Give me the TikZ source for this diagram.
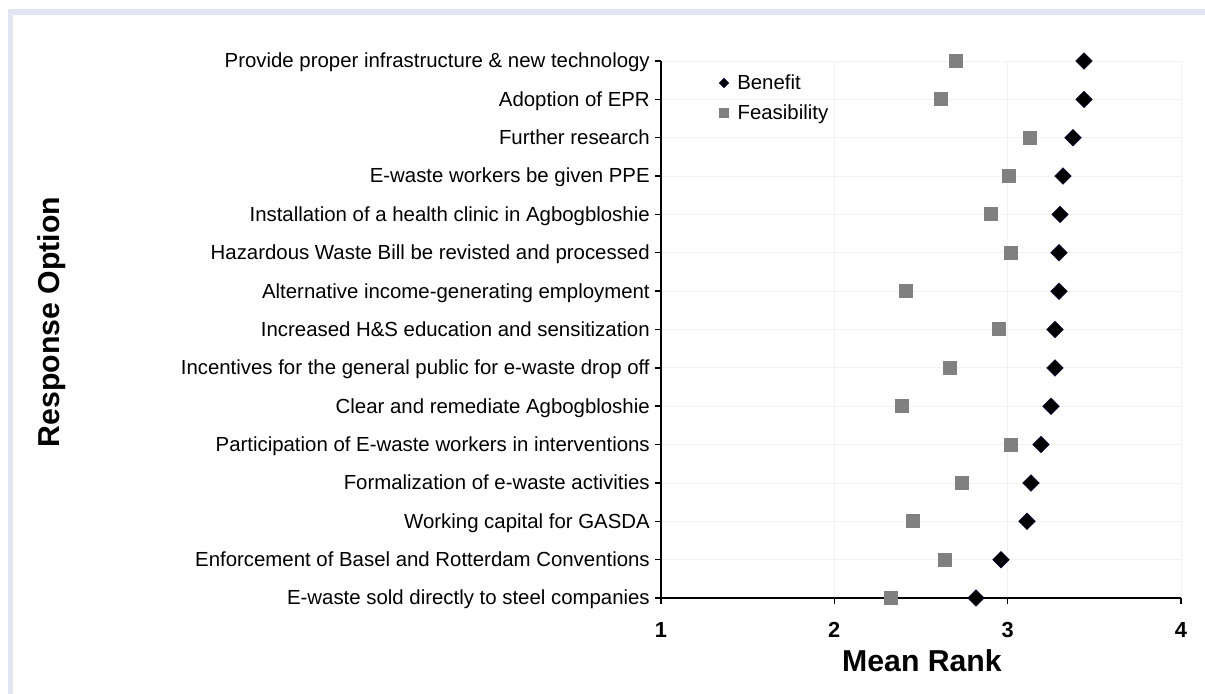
\documentclass[tikz,border=0pt]{standalone}
\usepackage{fontspec}
\setmainfont{Liberation Sans}
\usepackage{tikz}
\usetikzlibrary{shapes.geometric}
\usetikzlibrary{positioning}

\definecolor{frameblue}{HTML}{E2E6F3}
\definecolor{markgray}{HTML}{808080}
\definecolor{gridgray}{HTML}{F2F2F2}

\begin{document}
\begin{tikzpicture}[x=0.025cm, y=-0.025cm,
	opt/.style={anchor=east, inner sep=0pt, yshift=-1.8pt, font=\fontsize{14.5pt}{17pt}\selectfont, text height=1.45ex, text depth=.3ex},
	benefit/.style={diamond, fill=black, draw=black!75!blue, line width=0.3pt, inner sep=0pt, minimum size=0.42cm},
	feasible/.style={rectangle, fill=markgray, inner sep=0pt, minimum size=0.35cm},
	ticklab/.style={font=\fontsize{15.5pt}{18pt}\selectfont\bfseries},
	bigtitle/.style={font=\fontsize{21.5pt}{24pt}\selectfont\bfseries},
	]
		\useasboundingbox (0,0) rectangle (1205,694);
		\fill[frameblue] (8,9) rectangle (1205,15);
		\fill[frameblue] (8,9) rectangle (13,694);
		
		% grid
		\foreach \y in {61,99.4,137.7,176.1,214.4,252.8,291.2,329.5,367.9,406.2,444.6,483,521.3,559.7}
			\draw[gridgray, line width=0.6pt] (661,\y) -- (1181,\y);
		\foreach \x in {834.3,1007.6,1181}
			\draw[gridgray, line width=0.6pt] (\x,61) -- (\x,598);
		
		\coordinate (top) at (661,61);
		\coordinate (origin) at (661,598);
		\coordinate (right) at (1181,598);
		\draw[line width=1pt] (top) -- (origin) -- (right);
		\foreach \y in {61,99.4,137.7,176.1,214.4,252.8,291.2,329.5,367.9,406.2,444.6,483,521.3,559.7,598}
			\draw[line width=1pt] (655,\y) -- (661,\y);
		\foreach \x in {661,834.3,1007.6,1181}
			\draw[line width=1pt] (\x,598) -- (\x,604);
		
		\node[opt] (l1) at (650,61) {Provide proper infrastructure \& new technology};
		\node[opt] (l2) at (650,99.4) {Adoption of EPR};
		\node[opt] (l3) at (650,137.7) {Further research};
		\node[opt] (l4) at (650,176.1) {E-waste workers be given PPE};
		\node[opt] (l5) at (650,214.4) {Installation of a health clinic in Agbogbloshie};
		\node[opt] (l6) at (650,252.8) {Hazardous Waste Bill be revisted and processed};
		\node[opt] (l7) at (650,291.2) {Alternative income-generating employment};
		\node[opt] (l8) at (650,329.5) {Increased H\&S education and sensitization};
		\node[opt] (l9) at (650,367.9) {Incentives for the general public for e-waste drop off};
		\node[opt] (l10) at (650,406.2) {Clear and remediate Agbogbloshie};
		\node[opt] (l11) at (650,444.6) {Participation of E-waste workers in interventions};
		\node[opt] (l12) at (650,483) {Formalization of e-waste activities};
		\node[opt] (l13) at (650,521.3) {Working capital for GASDA};
		\node[opt] (l14) at (650,559.7) {Enforcement of Basel and Rotterdam Conventions};
		\node[opt] (l15) at (650,598) {E-waste sold directly to steel companies};
		
		\node[feasible] (f1) at (956,61) {};
		\node[feasible] (f2) at (941,99.4) {};
		\node[feasible] (f3) at (1030,137.7) {};
		\node[feasible] (f4) at (1009,176.1) {};
		\node[feasible] (f5) at (991,214.4) {};
		\node[feasible] (f6) at (1011,252.8) {};
		\node[feasible] (f7) at (906,291.2) {};
		\node[feasible] (f8) at (999,329.5) {};
		\node[feasible] (f9) at (950,367.9) {};
		\node[feasible] (f10) at (902,406.2) {};
		\node[feasible] (f11) at (1011,444.6) {};
		\node[feasible] (f12) at (962,483) {};
		\node[feasible] (f13) at (913,521.3) {};
		\node[feasible] (f14) at (945,559.7) {};
		\node[feasible] (f15) at (891,598) {};
		
		\node[benefit] (b1) at (1084,61) {};
		\node[benefit] (b2) at (1084,99.4) {};
		\node[benefit] (b3) at (1073,137.7) {};
		\node[benefit] (b4) at (1063,176.1) {};
		\node[benefit] (b5) at (1060,214.4) {};
		\node[benefit] (b6) at (1059,252.8) {};
		\node[benefit] (b7) at (1059,291.2) {};
		\node[benefit] (b8) at (1055,329.5) {};
		\node[benefit] (b9) at (1055,367.9) {};
		\node[benefit] (b10) at (1051,406.2) {};
		\node[benefit] (b11) at (1041,444.6) {};
		\node[benefit] (b12) at (1031,483) {};
		\node[benefit] (b13) at (1027,521.3) {};
		\node[benefit] (b14) at (1001,559.7) {};
		\node[benefit] (b15) at (976,598) {};
		
		% legend
		\node[benefit, minimum size=0.24cm] (legb) at (724,83) {};
		\node[opt, anchor=west, right=0.2cm of legb] (legbtext) {Benefit};
		\node[feasible, minimum size=0.25cm] (legf) at (724,113) {};
		\node[opt, anchor=west, right=0.2cm of legf] (legftext) {Feasibility};
		
		\node[ticklab] (x1) at (661,630) {1};
		\node[ticklab] (x2) at (834.3,630) {2};
		\node[ticklab] (x3) at (1007.6,630) {3};
		\node[ticklab] (x4) at (1181,630) {4};
		
		\node[bigtitle] (xtitle) at (922,661) {Mean Rank};
		\node[bigtitle, rotate=90] (ytitle) at (52,322) {Response Option};
\end{tikzpicture}
\end{document}
